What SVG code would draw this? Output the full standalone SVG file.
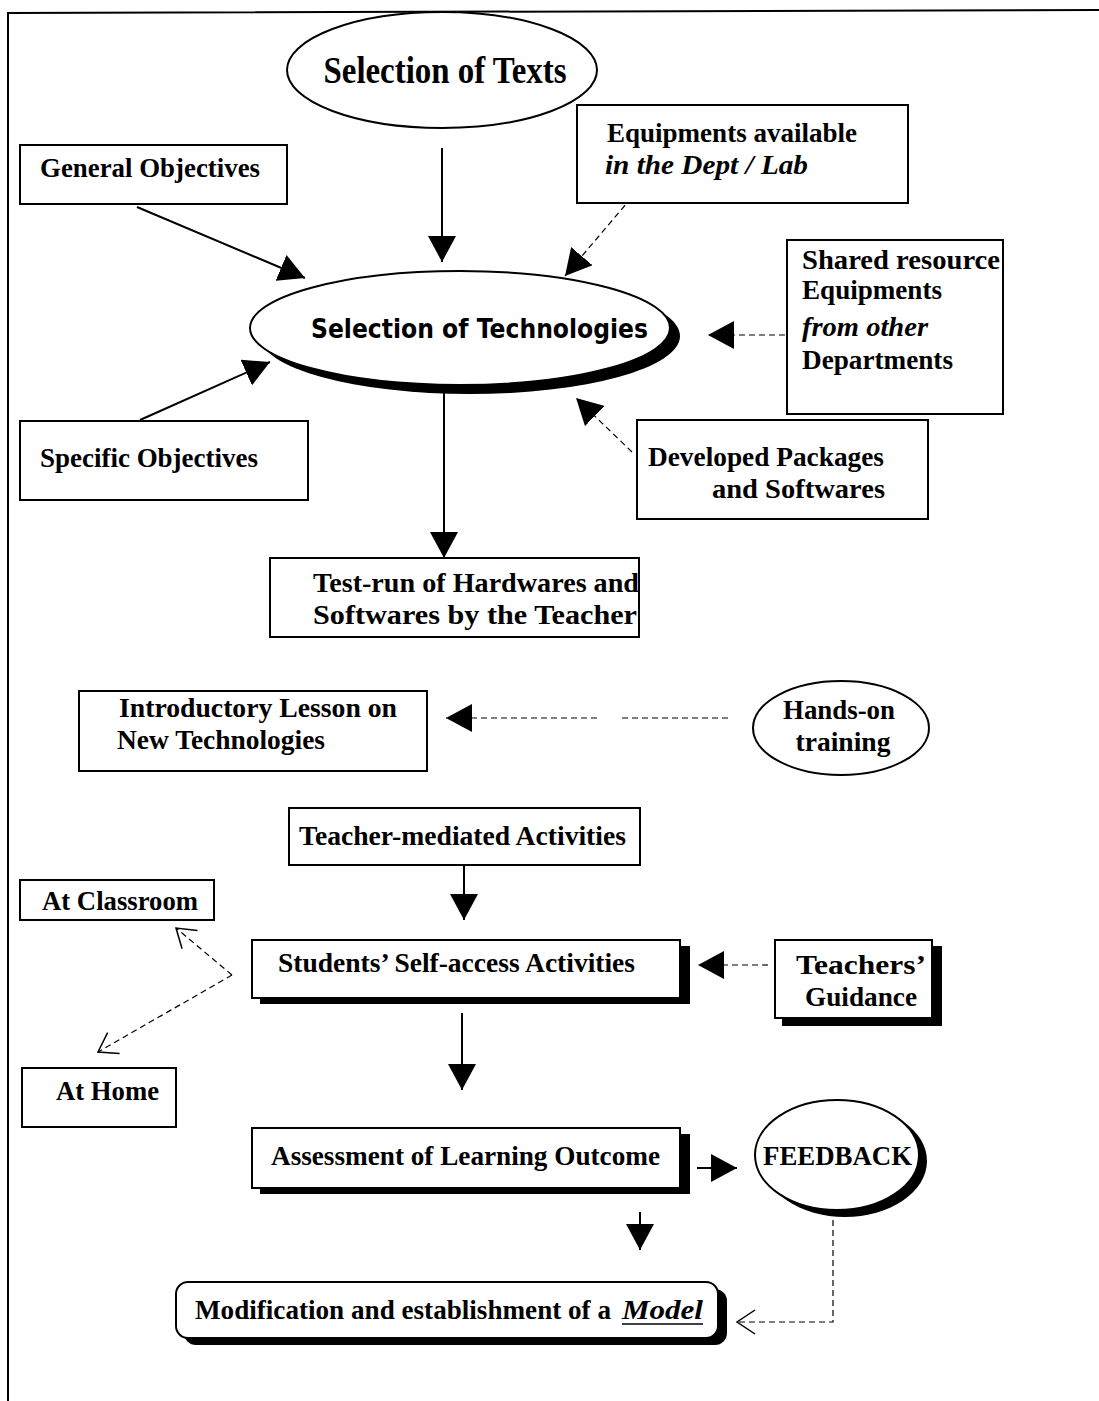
<svg xmlns="http://www.w3.org/2000/svg" width="1099" height="1401" viewBox="0 0 1099 1401">
<defs>
<marker id="tri" markerUnits="userSpaceOnUse" markerWidth="26" markerHeight="28" refX="26" refY="14" orient="auto"><path d="M0,0 L26,14 L0,28 Z" fill="#000"/></marker>
<marker id="open" markerUnits="userSpaceOnUse" markerWidth="22" markerHeight="26" refX="20" refY="13" orient="auto"><path d="M2,1 L20,13 L2,25" fill="none" stroke="#000" stroke-width="1.5"/></marker>
</defs>
<style>
.box{fill:#fff;stroke:#000;stroke-width:2}
.sh{fill:#000}
.t{font-family:'Liberation Serif','Times New Roman',serif;font-weight:bold;font-size:28px;fill:#000}
.i{font-style:italic}
.big{font-size:37px}
.c{font-family:'DejaVu Sans',sans-serif;font-weight:bold;font-size:26px;fill:#000}
.ln{stroke:#000;stroke-width:2;fill:none}
.ds{stroke:#000;stroke-width:1.2;fill:none;stroke-dasharray:6,4}
</style>
<rect width="1099" height="1401" fill="#fff"/>
<g id="frame"><path d="M8,1401 L8,13 L1099,10" class="ln"/></g>
<g id="connectors">
<path d="M442,148 L442,262" class="ln" marker-end="url(#tri)"/>
<path d="M137,207 L305,278" class="ln" marker-end="url(#tri)"/>
<path d="M638,190 L565,276" class="ds" marker-end="url(#tri)"/>
<path d="M785,335 L708,335" class="ds" marker-end="url(#tri)"/>
<path d="M140,420 L270,362" class="ln" marker-end="url(#tri)"/>
<path d="M632,452 L576,398" class="ds" marker-end="url(#tri)"/>
<path d="M444,380 L444,558" class="ln" marker-end="url(#tri)"/>
<path d="M728,718 L620,718 M597,718 L446,718" class="ds" marker-end="url(#tri)"/>
<path d="M464,862 L464,920" class="ln" marker-end="url(#tri)"/>
<path d="M232,975 L176,928" class="ds" marker-end="url(#open)"/>
<path d="M232,975 L98,1052" class="ds" marker-end="url(#open)"/>
<path d="M768,965 L698,965" class="ds" marker-end="url(#tri)"/>
<path d="M462,1013 L462,1090" class="ln" marker-end="url(#tri)"/>
<path d="M697,1168 L737,1168" class="ln" marker-end="url(#tri)"/>
<path d="M640,1212 L640,1250" class="ln" marker-end="url(#tri)"/>
<path d="M833,1200 L833,1322 L737,1322" class="ds" marker-end="url(#open)"/>
</g>
<g id="selection-texts">
<ellipse cx="442" cy="70" rx="155" ry="58" class="box"/>
<text x="445" y="83" class="t big" text-anchor="middle" textLength="243" lengthAdjust="spacingAndGlyphs">Selection of Texts</text>
</g>
<g id="general-objectives">
<rect x="20" y="145" width="267" height="59" class="box"/>
<text x="40" y="177" class="t" textLength="220" lengthAdjust="spacingAndGlyphs">General Objectives</text>
</g>
<g id="equipments-available">
<rect x="577" y="105" width="331" height="98" class="box"/>
<text x="607" y="142" class="t" textLength="250" lengthAdjust="spacingAndGlyphs">Equipments available</text>
<text x="605" y="174" class="t i" textLength="203" lengthAdjust="spacingAndGlyphs">in  the Dept / Lab</text>
</g>
<g id="selection-technologies">
<ellipse cx="470" cy="336" rx="210" ry="58" class="sh"/>
<ellipse cx="460" cy="328" rx="210" ry="57" class="box"/>
<text x="311" y="338" class="c" textLength="337" lengthAdjust="spacingAndGlyphs">Selection of Technologies</text>
</g>
<g id="shared-resource">
<rect x="787" y="240" width="216" height="174" class="box"/>
<text x="802" y="269" class="t" textLength="198" lengthAdjust="spacingAndGlyphs">Shared  resource</text>
<text x="802" y="299" class="t" textLength="140" lengthAdjust="spacingAndGlyphs">Equipments</text>
<text x="802" y="336" class="t i" textLength="126" lengthAdjust="spacingAndGlyphs">from other</text>
<text x="802" y="369" class="t" textLength="151" lengthAdjust="spacingAndGlyphs">Departments</text>
</g>
<g id="specific-objectives">
<rect x="20" y="421" width="288" height="79" class="box"/>
<text x="40" y="467" class="t" textLength="218" lengthAdjust="spacingAndGlyphs">Specific Objectives</text>
</g>
<g id="developed-packages">
<rect x="637" y="420" width="291" height="99" class="box"/>
<text x="648" y="466" class="t" textLength="236" lengthAdjust="spacingAndGlyphs">Developed Packages</text>
<text x="712" y="498" class="t" textLength="173" lengthAdjust="spacingAndGlyphs">and  Softwares</text>
</g>
<g id="test-run">
<rect x="270" y="558" width="369" height="79" class="box"/>
<text x="313" y="592" class="t" textLength="326" lengthAdjust="spacingAndGlyphs">Test-run  of Hardwares and</text>
<text x="313" y="624" class="t" textLength="324" lengthAdjust="spacingAndGlyphs">Softwares by the Teacher</text>
</g>
<g id="introductory-lesson">
<rect x="79" y="691" width="348" height="80" class="box"/>
<text x="119" y="717" class="t" textLength="278" lengthAdjust="spacingAndGlyphs">Introductory  Lesson on</text>
<text x="117" y="749" class="t" textLength="208" lengthAdjust="spacingAndGlyphs">New Technologies</text>
</g>
<g id="hands-on">
<ellipse cx="841" cy="728" rx="88" ry="47" class="box"/>
<text x="839" y="719" class="t" text-anchor="middle" textLength="112" lengthAdjust="spacingAndGlyphs">Hands-on</text>
<text x="843" y="751" class="t" text-anchor="middle" textLength="95" lengthAdjust="spacingAndGlyphs">training</text>
</g>
<g id="teacher-mediated">
<rect x="289" y="808" width="351" height="57" class="box"/>
<text x="299" y="845" class="t" textLength="327" lengthAdjust="spacingAndGlyphs">Teacher-mediated Activities</text>
</g>
<g id="at-classroom">
<rect x="20" y="880" width="194" height="40" class="box"/>
<text x="42" y="910" class="t" textLength="156" lengthAdjust="spacingAndGlyphs">At Classroom</text>
</g>
<g id="students-self-access">
<rect x="260" y="946" width="430" height="58" class="sh"/>
<rect x="252" y="940" width="428" height="58" class="box"/>
<text x="278" y="972" class="t" textLength="357" lengthAdjust="spacingAndGlyphs">Students’ Self-access Activities</text>
</g>
<g id="teachers-guidance">
<rect x="782" y="946" width="160" height="80" class="sh"/>
<rect x="775" y="940" width="157" height="78" class="box"/>
<text x="861" y="974" class="t" text-anchor="middle" textLength="130" lengthAdjust="spacingAndGlyphs">Teachers’</text>
<text x="861" y="1006" class="t" text-anchor="middle" textLength="112" lengthAdjust="spacingAndGlyphs">Guidance</text>
</g>
<g id="at-home">
<rect x="22" y="1068" width="154" height="59" class="box"/>
<text x="56" y="1100" class="t" textLength="103" lengthAdjust="spacingAndGlyphs">At Home</text>
</g>
<g id="assessment">
<rect x="260" y="1134" width="430" height="60" class="sh"/>
<rect x="252" y="1128" width="428" height="60" class="box"/>
<text x="271" y="1165" class="t" textLength="389" lengthAdjust="spacingAndGlyphs">Assessment of Learning Outcome</text>
</g>
<g id="feedback">
<ellipse cx="845" cy="1161" rx="82" ry="56" class="sh"/>
<ellipse cx="837" cy="1155" rx="82" ry="55" class="box"/>
<text x="763" y="1165" class="t" textLength="149" lengthAdjust="spacingAndGlyphs">FEEDBACK</text>
</g>
<g id="modification">
<rect x="184" y="1289" width="543" height="56" rx="12" class="sh"/>
<rect x="176" y="1282" width="542" height="56" rx="12" class="box"/>
<text x="195" y="1319" class="t" textLength="416" lengthAdjust="spacingAndGlyphs">Modification and establishment of a</text>
<text x="622" y="1319" class="t i" textLength="81" lengthAdjust="spacingAndGlyphs">Model</text>
<line x1="622" y1="1324" x2="703" y2="1324" stroke="#000" stroke-width="1.5"/>
</g>
</svg>
